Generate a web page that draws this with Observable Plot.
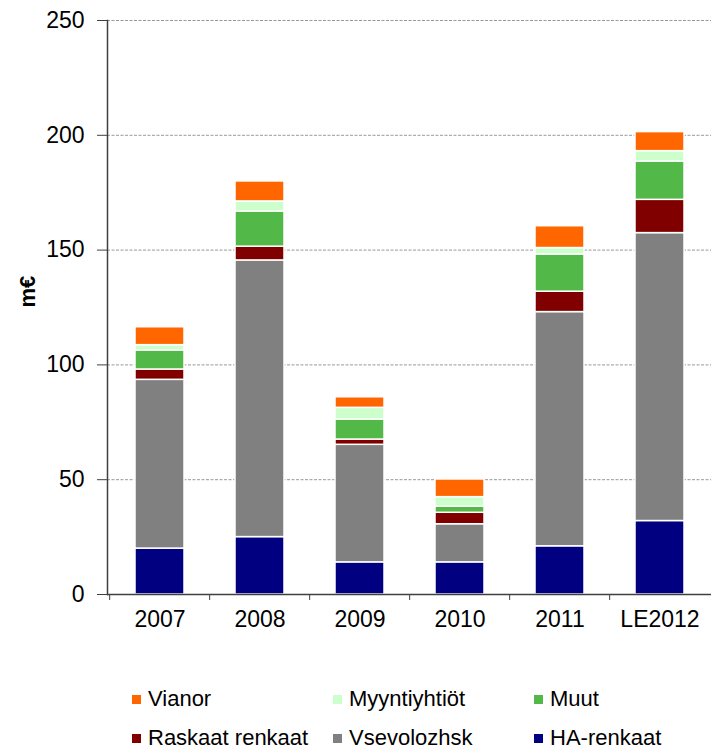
<!DOCTYPE html>
<html>
<head>
<meta charset="utf-8">
<script src="https://cdn.jsdelivr.net/npm/d3@7"></script>
<script src="https://cdn.jsdelivr.net/npm/@observablehq/plot@0.6"></script>
<style>
  body { margin: 0; background: #fff; font-family: "Liberation Sans", Arial, sans-serif; }
  #wrap { position: relative; width: 711px; height: 751px; overflow: hidden; }
  .legend { position: absolute; left: 0; top: 640px; width: 711px; height: 111px; }
  .item { position: absolute; display: flex; align-items: center; font-size: 22px; line-height: 22px; color: #000; white-space: nowrap; }
  .sw { width: 9px; height: 9px; margin-right: 7px; }
</style>
</head>
<body>
<div id="wrap"></div>
<script>
const years = ["2007", "2008", "2009", "2010", "2011", "LE2012"];
const seriesNames = ["HA-renkaat", "Vsevolozhsk", "Raskaat renkaat", "Muut", "Myyntiyhtiöt", "Vianor"];
const seriesColors = ["#000080", "#808080", "#800000", "#52B848", "#CCFFCC", "#FF6600"];
const haRenkaat   = [20, 25, 14, 14, 21, 32];
const vsevolozhsk = [73.5, 120.5, 51.2, 16.6, 102, 125.4];
const raskaat     = [4.5, 6, 2.3, 5.0, 8.9, 14.5];
const muut        = [8.3, 15.3, 8.7, 2.7, 16.2, 16.7];
const myyntiyhtiot= [2.3, 4.4, 5.1, 4.1, 2.8, 4.5];
const vianor      = [7.8, 8.7, 4.6, 7.7, 9.5, 8.3];
const yTicks = [0, 50, 100, 150, 200, 250];
const legendOrder = ["Vianor", "Myyntiyhtiöt", "Muut", "Raskaat renkaat", "Vsevolozhsk", "HA-renkaat"];

const seriesValues = [haRenkaat, vsevolozhsk, raskaat, muut, myyntiyhtiot, vianor];
const data = [];
seriesNames.forEach((s, i) => years.forEach((y, j) => data.push({year: y, series: s, value: seriesValues[i][j]})));

const font = '"Liberation Sans", Arial, sans-serif';
const plot = Plot.plot({
  width: 711,
  height: 640,
  marginLeft: 107,
  marginRight: 0,
  marginTop: 20,
  marginBottom: 46,
  style: {fontFamily: font, color: "#000", background: "#fff"},
  x: {domain: years, paddingInner: 0.515, paddingOuter: 0.2575, label: null},
  y: {domain: [0, 250], label: null},
  color: {domain: seriesNames, range: seriesColors},
  marks: [
    Plot.gridY(yTicks.filter(d => d > 0), {stroke: "#999", strokeOpacity: 1, strokeDasharray: "3,1.5"}),
    Plot.barY(data, {x: "year", y: "value", fill: "series", order: seriesNames, stroke: "white", strokeWidth: 1.5}),
    Plot.axisY({ticks: yTicks, tickSize: 10, tickPadding: 13, fontSize: 23, label: null, stroke: "#404040"}),
    Plot.axisX({tickSize: 6, dx: -50.33, text: null, stroke: "#404040"}),
    Plot.axisX({tickSize: 0, tickPadding: 16, fontSize: 23, label: null}),
    Plot.ruleY([0], {stroke: "#404040", strokeWidth: 1.5}),
    Plot.frame({anchor: "left", stroke: "#404040", strokeWidth: 1.5}),
    Plot.text(["m€"], {frameAnchor: "left", dx: -80, rotate: -90, fontWeight: "bold", fontSize: 22, fill: "#000"})
  ]
});
const wrap = document.getElementById("wrap");
wrap.appendChild(plot);

const legend = document.createElement("div");
legend.className = "legend";
const cols = [132, 333, 534];
const rows = [59, 98];
legendOrder.forEach((name, i) => {
  const it = document.createElement("div");
  it.className = "item";
  it.style.left = cols[i % 3] + "px";
  it.style.top = (rows[Math.floor(i / 3)] - 11) + "px";
  it.style.height = "22px";
  const sw = document.createElement("div");
  sw.className = "sw";
  sw.style.background = seriesColors[seriesNames.indexOf(name)];
  const tx = document.createElement("span");
  tx.textContent = name;
  it.appendChild(sw);
  it.appendChild(tx);
  legend.appendChild(it);
});
wrap.appendChild(legend);
</script>
</body>
</html>
